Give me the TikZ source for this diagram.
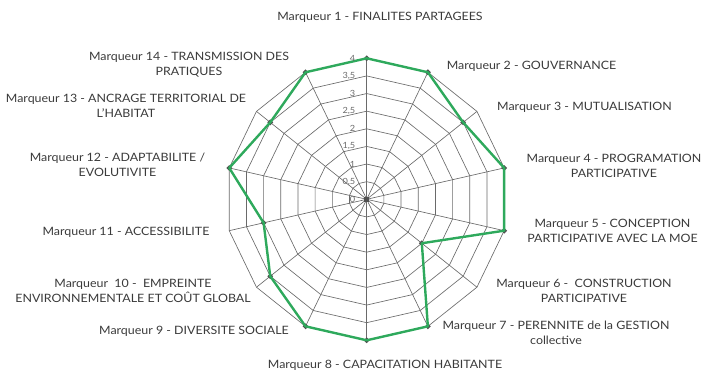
\documentclass[tikz,border=0pt]{standalone}
\usepackage{fontspec}
\setmainfont{Lato}[FakeStretch=1.08]
\usetikzlibrary{shapes.geometric}
\definecolor{gridc}{HTML}{6A6A6A}
\definecolor{linec}{HTML}{2EA95C}
\definecolor{mkc}{HTML}{505050}
\definecolor{txt}{HTML}{3A3A3A}
\begin{document}
\begin{tikzpicture}[x=1pt,y=-1pt,
  gridline/.style={draw=gridc,line width=0.65pt},
  serie/.style={draw=linec,line width=2.4pt,line join=round},
  mk/.style={diamond,fill=mkc,inner sep=0pt,minimum size=6pt},
  centremark/.style={rectangle,fill=mkc,inner sep=0pt,minimum size=5pt},
  lab/.style={font=\fontsize{11.5}{15}\selectfont,text=txt,align=center,inner sep=0pt},
  tick/.style={font=\fontsize{8.5}{9}\selectfont,text=gridc,anchor=east,inner sep=0pt}]
\useasboundingbox (0,0) rectangle (706,372);
\coordinate (O) at (366.7,199.3);
\foreach \k in {0,...,13}{
  \foreach \r in {1,...,8}{
    \coordinate (g\k-\r) at ({366.7+\r*17.625*sin(\k*360/14)},{199.3-\r*17.625*cos(\k*360/14)});
  }
}
\foreach \k in {0,...,13} \draw[gridline] (O) -- (g\k-8);
\foreach \r in {1,...,8} \draw[gridline] (g0-\r) \foreach \k in {1,...,13}{ -- (g\k-\r)} -- cycle;
\node[centremark] (c0) at (O) {};
\foreach \v [count=\i from 0] in {4,4,3.5,4,4,2,4,4,4,3.5,3,4,3.5,4}
  \coordinate (d\i) at ({366.7+\v*35.25*sin(\i*360/14)},{199.3-\v*35.25*cos(\i*360/14)});
\foreach \i in {0,...,13} \node[mk] (m\i) at (d\i) {};
\draw[serie] (d0) \foreach \i in {1,...,13}{ -- (d\i)} -- cycle;
\foreach \s [count=\j from 0] in {0,{0,5},1,{1,5},2,{2,5},3,{3,5},4}
  \node[tick] (t\j) at (355.5,{199.3-\j*17.625}) {\s};
\node[lab] (l1) at (380,17) {Marqueur 1 - FINALITES PARTAGEES};
\node[lab] (l2) at (531.5,66) {Marqueur 2 - GOUVERNANCE};
\node[lab,anchor=west] (l3) at (497,107) {Marqueur 3 - MUTUALISATION};
\node[lab] (l4) at (614,165.5) {Marqueur 4 - PROGRAMATION\\PARTICIPATIVE};
\node[lab] (l5) at (612.5,231) {Marqueur 5 - CONCEPTION\\PARTICIPATIVE AVEC LA MOE};
\node[lab] (l6) at (584,291) {Marqueur 6 -\ \ CONSTRUCTION\\PARTICIPATIVE};
\node[lab] (l7) at (556,332.5) {Marqueur 7 - PERENNITE de la GESTION\\collective};
\node[lab] (l8) at (385,365) {Marqueur 8 - CAPACITATION HABITANTE};
\node[lab] (l9) at (194,331) {Marqueur 9 - DIVERSITE SOCIALE};
\node[lab] (l10) at (133,291) {Marqueur\ \ 10 -\ \ EMPREINTE\\ENVIRONNEMENTALE ET COÛT GLOBAL};
\node[lab] (l11) at (126,232) {Marqueur 11 - ACCESSIBILITE};
\node[lab] (l12) at (117.5,165) {Marqueur 12 - ADAPTABILITE /\\EVOLUTIVITE};
\node[lab] (l13) at (126,106) {Marqueur 13 - ANCRAGE TERRITORIAL DE\\L'HABITAT};
\node[lab] (l14) at (189,64.5) {Marqueur 14 - TRANSMISSION DES\\PRATIQUES};
\end{tikzpicture}
\end{document}
